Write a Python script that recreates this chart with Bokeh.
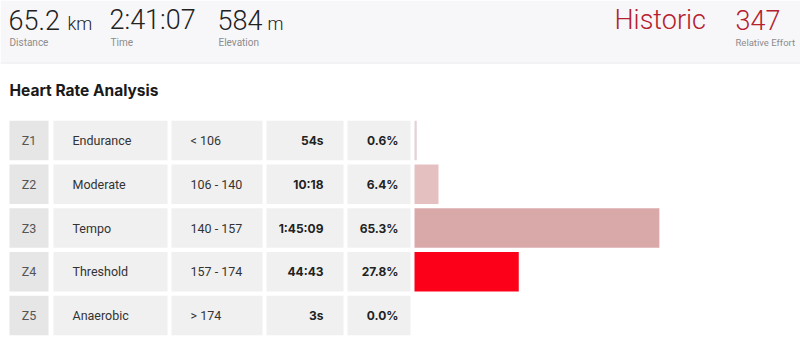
from bokeh.plotting import figure
from bokeh.models import Range1d, ColumnDataSource
from bokeh.core.properties import value
from bokeh.embed import file_html
from bokeh.resources import INLINE

# ---- data ----
stat_values = ["65.2", "2:41:07", "584"]
stat_units = ["km", "", "m"]
stat_labels = ["Distance", "Time", "Elevation"]
effort_label = "Historic"
effort_value = "347"
effort_caption = "Relative Effort"
title = "Heart Rate Analysis"

zones = ["Z1", "Z2", "Z3", "Z4", "Z5"]
zone_names = ["Endurance", "Moderate", "Tempo", "Threshold", "Anaerobic"]
zone_ranges = ["< 106", "106 - 140", "140 - 157", "157 - 174", "> 174"]
zone_times = ["54s", "10:18", "1:45:09", "44:43", "3s"]
zone_pcts = [0.6, 6.4, 65.3, 27.8, 0.0]
bar_colors = ["#e2d2d4", "#e5c0c1", "#d9a8a9", "#fc0019", "#ffffff"]

FONT = "Inter"
LABEL = "Roboto"
LIGHT = "Roboto Light"

p = figure(width=800, height=340, x_range=Range1d(0, 800), y_range=Range1d(340, 0),
           output_backend="svg", toolbar_location=None, min_border=0,
           x_axis_location=None, y_axis_location=None)
p.grid.visible = False
p.outline_line_color = None
p.background_fill_color = "#ffffff"
p.border_fill_color = "#ffffff"

# row scale: row i centered at 140 + 43.75*i px
ROW0, PITCH = 140.0, 43.75
p.extra_y_ranges = {"row": Range1d(start=(340 - ROW0) / PITCH, end=(0 - ROW0) / PITCH)}
# percent scale: 0% at 414px, 3.75 px per percent
X0, PXPCT = 414.0, 3.75
p.extra_x_ranges = {"pct": Range1d(start=-X0 / PXPCT, end=(800 - X0) / PXPCT)}

# header band
p.quad(left=[0], right=[800], top=[0], bottom=[62], fill_color="#f7f7fa", line_color=None)
p.segment(x0=[0], x1=[800], y0=[62.5], y1=[62.5], line_color="#e8e8ec", line_width=1)

# header stats
value_x = [8, 109, 217]
unit_x = [67, 0, 267]
p.text(x=value_x, y=[19] * 3, text=stat_values, text_font=value(LIGHT), text_font_size="27px",
       text_color="#222222", text_baseline="middle")
units_src = ColumnDataSource(dict(x=[u for u, s in zip(unit_x, stat_units) if s],
                                  t=[s for s in stat_units if s]))
p.text(x="x", y=22.5, text="t", source=units_src, text_font=value(LIGHT), text_font_size="18px",
       text_color="#222222", text_baseline="middle")
p.text(x=[9, 110, 218], y=[41.5] * 3, text=stat_labels, text_font=value(LABEL), text_font_size="10px",
       text_color="#8c8c8c", text_baseline="middle")
p.text(x=[614], y=[19], text=[effort_label], text_font=value(LIGHT), text_font_size="27px",
       text_color="#b5202d", text_baseline="middle")
p.text(x=[735], y=[19], text=[effort_value], text_font=value(LIGHT), text_font_size="27px",
       text_color="#b5202d", text_baseline="middle")
p.text(x=[735], y=[41.5], text=[effort_caption], text_font=value(LABEL), text_font_size="9.5px",
       text_color="#8c8c8c", text_baseline="middle")

# title
p.text(x=[9], y=[89.5], text=[title], text_font=value(FONT), text_font_size="15.5px",
       text_font_style="bold", text_color="#1a1a1a", text_baseline="middle")

# table cells
rows = list(range(len(zones)))
half = 0.45
cols = [(9, 48, "#e6e6e6"), (53, 167, "#f0f0f0"), (171, 262, "#f0f0f0"),
        (266, 343, "#f0f0f0"), (347, 410, "#f0f0f0")]
for left, right, col in cols:
    p.quad(left=left, right=right, top=[r - half for r in rows], bottom=[r + half for r in rows],
           fill_color=col, line_color=None, y_range_name="row")

src = ColumnDataSource(dict(
    row=rows, zone=zones, name=zone_names, rng=zone_ranges, time=zone_times,
    pct=zone_pcts, pct_txt=[f"{v:.1f}%" for v in zone_pcts], color=bar_colors,
))

# bars
p.hbar(y="row", left=0, right="pct", height=2 * half, fill_color="color", line_color=None,
       source=src, x_range_name="pct", y_range_name="row")

plain = dict(source=src, y="row", y_range_name="row", text_font=value(LABEL),
             text_font_size="12.5px", text_baseline="middle")
bold = dict(source=src, y="row", y_range_name="row", text_font=value(FONT),
            text_font_size="12px", text_baseline="middle", text_font_style="bold")
p.text(x=28.5, text="zone", text_align="center", text_color="#555555", **plain)
p.text(x=72, text="name", text_align="left", text_color="#333333", **plain)
p.text(x=190, text="rng", text_align="left", text_color="#333333", **plain)
p.text(x=323, text="time", text_align="right", text_color="#222222", **bold)
p.text(x=398, text="pct_txt", text_align="right", text_color="#222222", **bold)

open("out.html", "w").write(file_html(p, INLINE))
